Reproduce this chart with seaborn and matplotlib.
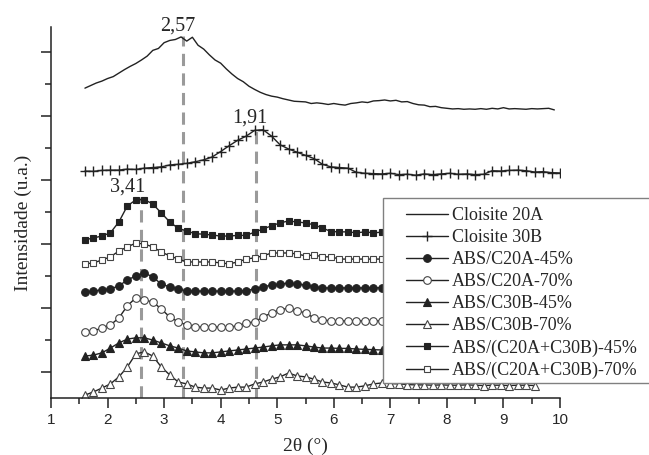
import numpy as np
import matplotlib.pyplot as plt
import seaborn as sns
from matplotlib.patches import Rectangle

# XRD patterns (curves stacked with vertical offsets, arbitrary units)
two_theta_20a = np.round(np.arange(1.6, 9.95, 0.1), 2)
cloisite_20a = [9.68, 9.76, 9.84, 9.90, 9.98, 10.04, 10.15, 10.26, 10.36, 10.45,
                10.56, 10.68, 10.86, 10.92, 11.10, 11.17, 11.20, 11.28, 11.15, 11.27,
                11.02, 10.90, 10.72, 10.56, 10.46, 10.28, 10.12, 9.98, 9.88, 9.74,
                9.64, 9.55, 9.48, 9.43, 9.40, 9.35, 9.31, 9.27, 9.26, 9.25,
                9.20, 9.22, 9.20, 9.17, 9.20, 9.17, 9.15, 9.20, 9.22, 9.25,
                9.23, 9.28, 9.29, 9.31, 9.28, 9.30, 9.25, 9.26, 9.20, 9.16,
                9.15, 9.10, 9.11, 9.07, 9.05, 9.03, 9.04, 9.02, 9.03, 9.02,
                9.04, 9.02, 9.05, 9.03, 9.07, 9.03, 9.04, 9.03, 9.02, 9.04,
                9.03, 9.04, 9.05, 9.00]

two_theta_30b = np.round(np.arange(1.6, 10.05, 0.15), 2)
cloisite_30b = [7.09, 7.08, 7.11, 7.12, 7.12, 7.15, 7.14, 7.18, 7.20, 7.22,
                7.28, 7.30, 7.33, 7.38, 7.44, 7.53, 7.70, 7.88, 8.05, 8.18,
                8.36, 8.38, 8.18, 7.91, 7.78, 7.68, 7.58, 7.48, 7.30, 7.22,
                7.20, 7.18, 7.05, 7.02, 7.01, 7.00, 7.02, 6.98, 6.99, 6.96,
                7.00, 6.98, 7.00, 7.02, 6.99, 7.00, 6.98, 6.99, 7.10, 7.09,
                7.11, 7.12, 7.10, 7.06, 7.07, 7.04, 7.03]

two_theta = np.round(np.arange(1.6, 9.6, 0.15), 2)
mix_45 = [4.94, 5.00, 5.06, 5.16, 5.50, 6.00, 6.19, 6.20, 6.06, 5.78,
          5.50, 5.30, 5.22, 5.13, 5.12, 5.09, 5.06, 5.06, 5.08, 5.08,
          5.18, 5.28, 5.38, 5.47, 5.53, 5.50, 5.47, 5.41, 5.31, 5.20,
          5.19, 5.19, 5.16, 5.19, 5.16, 5.18, 5.20, 5.22, 5.21, 5.19,
          5.17, 5.15, 5.14, 5.14, 5.13, 5.13, 5.12, 5.13, 5.12, 5.12,
          5.13, 5.12, 5.11, 5.12]
mix_70 = [4.19, 4.22, 4.31, 4.41, 4.59, 4.72, 4.84, 4.81, 4.72, 4.56,
          4.44, 4.34, 4.25, 4.25, 4.25, 4.25, 4.22, 4.19, 4.25, 4.34,
          4.38, 4.44, 4.53, 4.53, 4.53, 4.50, 4.44, 4.47, 4.41, 4.41,
          4.34, 4.34, 4.34, 4.34, 4.34, 4.34, 4.35, 4.36, 4.35, 4.33,
          4.32, 4.31, 4.30, 4.30, 4.29, 4.29, 4.28, 4.28, 4.28, 4.27,
          4.27, 4.28, 4.27, 4.27]
c20a_45 = [3.31, 3.34, 3.38, 3.41, 3.50, 3.69, 3.81, 3.91, 3.78, 3.56,
           3.47, 3.41, 3.34, 3.34, 3.34, 3.34, 3.34, 3.34, 3.34, 3.35,
           3.41, 3.47, 3.53, 3.56, 3.59, 3.56, 3.53, 3.47, 3.44, 3.44,
           3.44, 3.44, 3.44, 3.44, 3.44, 3.45, 3.45, 3.46, 3.45, 3.44,
           3.43, 3.42, 3.41, 3.41, 3.40, 3.40, 3.40, 3.39, 3.40, 3.39,
           3.39, 3.40, 3.39, 3.39]
c20a_70 = [2.06, 2.09, 2.19, 2.28, 2.50, 2.88, 3.13, 3.06, 3.00, 2.78,
           2.53, 2.38, 2.28, 2.22, 2.22, 2.22, 2.22, 2.22, 2.25, 2.34,
           2.38, 2.53, 2.66, 2.75, 2.81, 2.72, 2.66, 2.50, 2.44, 2.41,
           2.41, 2.41, 2.41, 2.41, 2.41, 2.41, 2.42, 2.44, 2.43, 2.41,
           2.40, 2.38, 2.37, 2.37, 2.36, 2.36, 2.35, 2.35, 2.36, 2.35,
           2.35, 2.36, 2.35, 2.35]
c30b_45 = [1.31, 1.34, 1.41, 1.56, 1.72, 1.84, 1.88, 1.88, 1.81, 1.72,
           1.63, 1.56, 1.47, 1.44, 1.41, 1.41, 1.44, 1.47, 1.50, 1.53,
           1.56, 1.59, 1.63, 1.66, 1.66, 1.66, 1.63, 1.59, 1.56, 1.56,
           1.55, 1.55, 1.53, 1.52, 1.51, 1.50, 1.50, 1.51, 1.50, 1.49,
           1.48, 1.47, 1.47, 1.46, 1.46, 1.45, 1.45, 1.45, 1.44, 1.45,
           1.44, 1.44, 1.45, 1.44]
c30b_70 = [0.09, 0.19, 0.31, 0.44, 0.66, 0.97, 1.38, 1.44, 1.31, 0.97,
           0.72, 0.50, 0.44, 0.34, 0.31, 0.31, 0.25, 0.31, 0.34, 0.34,
           0.44, 0.50, 0.59, 0.66, 0.78, 0.69, 0.66, 0.59, 0.50, 0.47,
           0.41, 0.34, 0.34, 0.38, 0.44, 0.47, 0.45, 0.44, 0.42, 0.41,
           0.41, 0.40, 0.41, 0.40, 0.40, 0.41, 0.40, 0.39, 0.40, 0.40,
           0.39, 0.40, 0.40, 0.39]

# peak guide lines: position, height, label
peak_x = [3.34, 4.62, 2.59]
peak_top = [11.30, 8.44, 6.28]
peak_label_x = [3.24, 4.52, 2.36]
peak_labels = ['2,57', '1,91', '3,41']

sns.set_style('ticks')
plt.rcParams['font.family'] = ['Liberation Serif', 'DejaVu Serif']

fig = plt.figure(figsize=(6.49, 4.55), dpi=100)
ax = fig.add_axes([51 / 649, 57 / 455, 509 / 649, 371 / 455])

dark = '#222222'
edge = '#444444'

# (label, x, y, marker, size, filled)
series = [
    ('Cloisite 20A', two_theta_20a, cloisite_20a, None, 0, True),
    ('Cloisite 30B', two_theta_30b, cloisite_30b, '+', 7, True),
    ('ABS/C20A-45%', two_theta, c20a_45, 'o', 5.5, True),
    ('ABS/C20A-70%', two_theta, c20a_70, 'o', 5.5, False),
    ('ABS/C30B-45%', two_theta, c30b_45, '^', 6, True),
    ('ABS/C30B-70%', two_theta, c30b_70, '^', 6, False),
    ('ABS/(C20A+C30B)-45%', two_theta, mix_45, 's', 5, True),
    ('ABS/(C20A+C30B)-70%', two_theta, mix_70, 's', 5, False),
]

for px, top in zip(peak_x, peak_top):
    ax.plot([px, px], [0, top], color='#9a9a9a', lw=2.2,
            linestyle=(0, (4, 2.4)), zorder=1)

for label, x, y, marker, size, filled in series:
    sns.lineplot(x=x, y=y, ax=ax, label=label, color=dark, lw=1.0,
                 marker=marker, markersize=size,
                 markerfacecolor=dark if filled else 'white',
                 markeredgecolor=dark if filled else edge,
                 markeredgewidth=1.0 if marker == '+' else 0.8,
                 estimator=None, sort=False, zorder=2)

for lx, top, txt in zip(peak_label_x, peak_top, peak_labels):
    ax.text(lx, top + 0.18, txt, ha='center', va='baseline', fontsize=14.5)

ax.set_xlim(1, 10)
ax.set_ylim(0, 11.59)
ax.set_xticks(range(1, 11))
ax.set_xticks(np.arange(1.5, 10, 1), minor=True)
ax.set_yticks(np.arange(0.8125, 11.5, 2), labels=[])
ax.set_yticks(np.arange(1.8125, 11.5, 2), minor=True)
ax.tick_params(which='major', length=7, width=1.1, direction='out',
               color='#222222', labelsize=11, labelfontfamily='Liberation Sans')
ax.tick_params(which='minor', length=4, width=1.1, direction='out', color='#222222')
for side in ['top', 'right']:
    ax.spines[side].set_visible(False)
for side in ['left', 'bottom']:
    ax.spines[side].set_linewidth(1.1)
    ax.spines[side].set_color('#222222')

ax.set_xlabel('2θ (°)', fontsize=14, labelpad=8)
ax.set_ylabel('Intensidade (u.a.)', fontsize=14)
ax.yaxis.set_label_coords(-0.037, 0.473)

# legend box running past the right edge of the figure
handles, labels = ax.get_legend_handles_labels()
ax.get_legend().remove()
fig.add_artist(Rectangle((383 / 649, 72 / 455), 0.5, 185 / 455,
                         transform=fig.transFigure, facecolor='white',
                         edgecolor='#808080', lw=1.0, zorder=3))
fig.legend(handles, labels, loc='upper left', frameon=False,
           bbox_to_anchor=(406 / 649, 1 - 207 / 455), borderpad=0,
           borderaxespad=0, fontsize=13, handlelength=2.3,
           handletextpad=0.25, labelspacing=0.28)

fig.savefig('out.png', dpi=100)
